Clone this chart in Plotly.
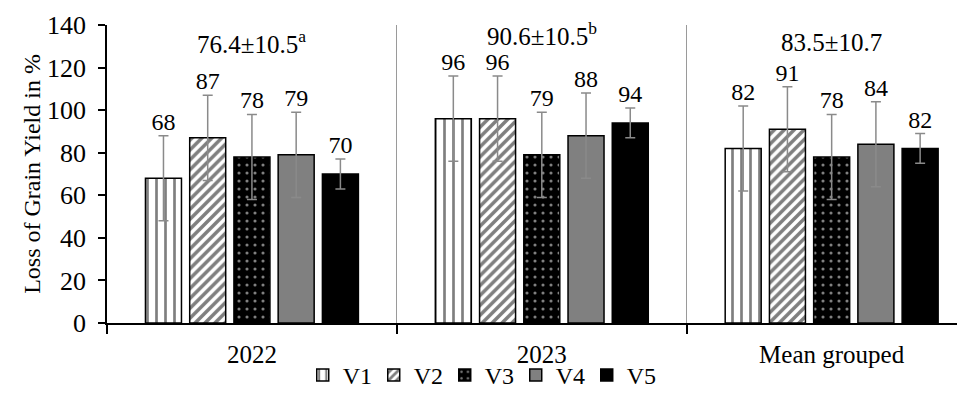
import plotly.graph_objects as go

groups = ["2022", "2023", "Mean grouped"]
series_names = ["V1", "V2", "V3", "V4", "V5"]
V1 = [68, 96, 82]
V2 = [87, 96, 91]
V3 = [78, 79, 78]
V4 = [79, 88, 84]
V5 = [70, 94, 82]
SD1 = [20, 20, 20]
SD2 = [20, 20, 20]
SD3 = [20, 20, 20]
SD4 = [20, 20, 20]
SD5 = [7, 7, 7]
group_labels = ["76.4±10.5<sup>a</sup>", "90.6±10.5<sup>b</sup>", "83.5±10.7"]
group_label_y = [132, 136, 132]
y_ticks = [0, 20, 40, 60, 80, 100, 120, 140]

values = [V1, V2, V3, V4, V5]
sds = [SD1, SD2, SD3, SD4, SD5]

FONT = "Times New Roman, Liberation Serif, serif"
LABEL_PAD = 0  # gap between error-bar cap and value label (data units)

patterns = [
    dict(shape="|", fgcolor="black", bgcolor="white", size=9, solidity=0.3, fillmode="overlay"),
    dict(shape="/", fgcolor="black", bgcolor="white", size=7, solidity=0.5, fillmode="overlay"),
    dict(shape=".", fgcolor="white", bgcolor="black", size=8, solidity=0.12, fillmode="overlay"),
    None,
    None,
]
colors = ["white", "white", "black", "#808080", "black"]

fig = go.Figure()
for name, v, s, pat, c in zip(series_names, values, sds, patterns, colors):
    marker = dict(color=c, line=dict(color="black", width=1.5))
    if pat is not None:
        marker["pattern"] = pat
    fig.add_trace(go.Bar(
        name=name, x=groups, y=v,
        marker=marker,
        error_y=dict(type="data", array=s, visible=True, color="#8a8a8a", thickness=1.5, width=5),
    ))

for name, v, s in zip(series_names, values, sds):
    fig.add_trace(go.Scatter(
        x=groups, y=[a + b + LABEL_PAD for a, b in zip(v, s)], mode="text",
        text=[str(a) for a in v], textposition="top center",
        textfont=dict(family=FONT, size=24, color="black"),
        showlegend=False, hoverinfo="skip", cliponaxis=False,
    ))

for i, (lab, yy) in enumerate(zip(group_labels, group_label_y)):
    fig.add_annotation(x=i, y=yy, text=lab, showarrow=False, xref="x", yref="y",
                       font=dict(family=FONT, size=25, color="black"), yanchor="middle")

XR = [-0.5, 2.46]
fig.update_layout(
    width=957, height=402,
    margin=dict(l=99, r=0, t=17, b=87),
    paper_bgcolor="white", plot_bgcolor="white",
    barmode="group", bargap=0.237, bargroupgap=0.186,
    scattermode="group", scattergap=0.237,
    font=dict(family=FONT, size=24, color="black"),
    showlegend=True,
    legend=dict(orientation="h", x=0.435, xanchor="center", y=-0.176, yanchor="middle",
                font=dict(family=FONT, size=24, color="black"), itemwidth=30,
                bgcolor="rgba(0,0,0,0)", traceorder="normal", entrywidth=26),
    xaxis=dict(type="category", range=XR, tickson="boundaries", ticks="outside", ticklen=9,
               tickcolor="black", tickwidth=1.5, showline=True, linecolor="black", linewidth=1.5,
               showgrid=True, gridcolor="#9a9a9a", gridwidth=1, ticklabelstandoff=8,
               tickfont=dict(family=FONT, size=25, color="black"), zeroline=False),
    yaxis=dict(range=[0, 140], tickvals=y_ticks, ticks="outside", ticklen=7, tickcolor="black",
               tickwidth=1.5, showline=True, linecolor="black", linewidth=1.5, showgrid=False,
               zeroline=False, tickfont=dict(family=FONT, size=26, color="black"),
               ticklabelstandoff=7,
               title=dict(text="Loss of Grain Yield in %", font=dict(family=FONT, size=24, color="black"),
                          standoff=0)),
    xaxis2=dict(overlaying="x", range=XR, tickvals=[0.5, 1.5], ticks="inside", ticklen=8,
                tickcolor="black", tickwidth=1.5, showticklabels=False, showline=False,
                showgrid=False, zeroline=False, anchor="y"),
    yaxis2=dict(overlaying="y", range=[0, 140], tickvals=y_ticks, ticks="inside", ticklen=7,
                tickcolor="black", tickwidth=1.5, showticklabels=False, showline=False,
                showgrid=False, zeroline=False, anchor="x", side="left"),
)

fig.write_html("out.html")
